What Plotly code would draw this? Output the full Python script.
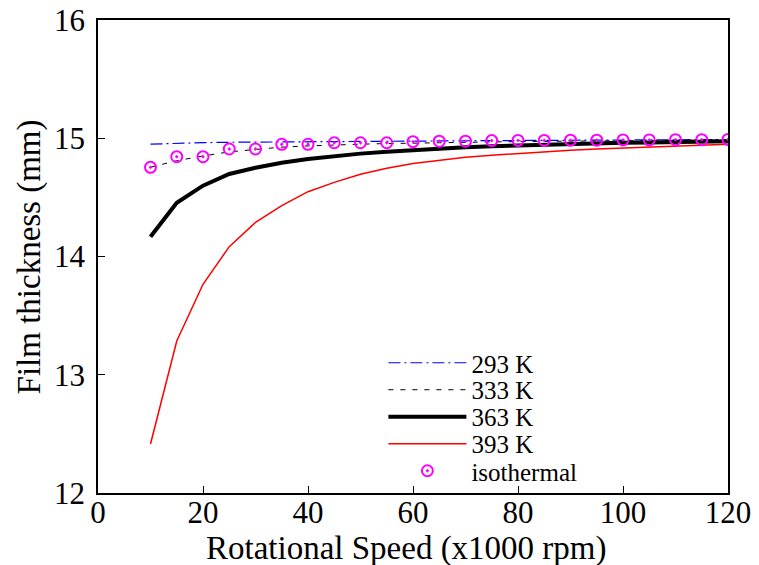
import plotly.graph_objects as go

speed = [10, 15, 20, 25, 30, 35, 40, 45, 50, 55, 60, 65, 70, 75, 80, 85, 90, 95, 100, 105, 110, 115, 120]

t293 = [14.950, 14.958, 14.963, 14.966, 14.968, 14.970, 14.972, 14.974, 14.975, 14.976, 14.977, 14.978,
        14.979, 14.980, 14.981, 14.982, 14.983, 14.984, 14.985, 14.986, 14.987, 14.988, 14.989]
t333 = [14.755, 14.810, 14.850, 14.885, 14.905, 14.925, 14.935, 14.945, 14.950, 14.955, 14.960, 14.963,
        14.966, 14.969, 14.972, 14.974, 14.976, 14.978, 14.980, 14.982, 14.984, 14.985, 14.986]
t363 = [14.167, 14.455, 14.599, 14.698, 14.751, 14.793, 14.825, 14.850, 14.870, 14.886, 14.900, 14.913,
        14.924, 14.933, 14.940, 14.947, 14.952, 14.957, 14.961, 14.965, 14.968, 14.971, 14.974]
t393 = [12.414, 13.285, 13.765, 14.083, 14.289, 14.430, 14.548, 14.627, 14.695, 14.746, 14.786, 14.816,
        14.840, 14.857, 14.872, 14.886, 14.898, 14.909, 14.918, 14.927, 14.935, 14.943, 14.950]
iso = [14.754, 14.844, 14.844, 14.909, 14.909, 14.949, 14.949, 14.962, 14.962, 14.962, 14.971, 14.975,
       14.975, 14.980, 14.982, 14.982, 14.984, 14.984, 14.986, 14.986, 14.988, 14.988, 14.990]

x_title = "Rotational Speed (x1000 rpm)"
y_title = "Film thickness (mm)"

font = "Liberation Serif, Times New Roman, serif"

fig = go.Figure()
fig.add_trace(go.Scatter(x=speed, y=t293, mode="lines", name="293 K", legend="legend",
                         line=dict(color="#0000FF", width=1.2, dash="12px,4px,2px,4px")))
fig.add_trace(go.Scatter(x=speed, y=t333, mode="lines", name="333 K", legend="legend2",
                         line=dict(color="black", width=1, dash="5px,7px")))
fig.add_trace(go.Scatter(x=speed, y=t363, mode="lines", name="363 K", legend="legend3",
                         line=dict(color="black", width=4)))
fig.add_trace(go.Scatter(x=speed, y=t393, mode="lines", name="393 K", legend="legend4",
                         line=dict(color="#FF0000", width=1.5)))
fig.add_trace(go.Scatter(x=speed, y=iso, mode="markers", name="isothermal", legend="legend5",
                         marker=dict(symbol="circle-open-dot", size=11, color="#FF00FF",
                                     line=dict(width=2, color="#FF00FF"))))

def leg(yp):
    return dict(x=0.453, y=yp, xanchor="left", yanchor="middle",
                bgcolor="rgba(0,0,0,0)", font=dict(size=25, family=font),
                itemwidth=78)

fig.update_layout(
    width=759, height=565,
    margin=dict(l=90, r=39, t=12, b=80, autoexpand=False),
    paper_bgcolor="white", plot_bgcolor="white",
    font=dict(family=font, color="black"),
    showlegend=True,
    legend=leg(0.2748), legend2=leg(0.2178), legend3=leg(0.1607),
    legend4=leg(0.1036), legend5=leg(0.0465),
    xaxis=dict(range=[0, 120], tickvals=[0, 20, 40, 60, 80, 100, 120],
               showgrid=False, zeroline=False, showline=True, linecolor="black", linewidth=1.5,
               mirror=True, ticks="inside", ticklen=7, tickcolor="black", automargin=False,
               ticklabeloverflow="allow", ticklabelstandoff=-9,
               tickfont=dict(size=31, family=font)),
    yaxis=dict(range=[12, 16], tickvals=[12, 13, 14, 15, 16],
               showgrid=False, zeroline=False, showline=True, linecolor="black", linewidth=1.5,
               mirror=True, ticks="inside", ticklen=7, tickcolor="black", automargin=False,
               ticklabeloverflow="allow", ticklabelstandoff=5,
               tickfont=dict(size=31, family=font)),
    annotations=[
        dict(text=x_title, xref="paper", yref="paper", x=0.489, y=-0.117,
             xanchor="center", yanchor="middle", showarrow=False,
             font=dict(size=33, family=font, color="black")),
        dict(text=y_title, xref="paper", yref="paper", x=-0.108, y=0.5, textangle=-90,
             xanchor="center", yanchor="middle", showarrow=False,
             font=dict(size=33, family=font, color="black")),
    ],
)

fig.write_html("out.html")
